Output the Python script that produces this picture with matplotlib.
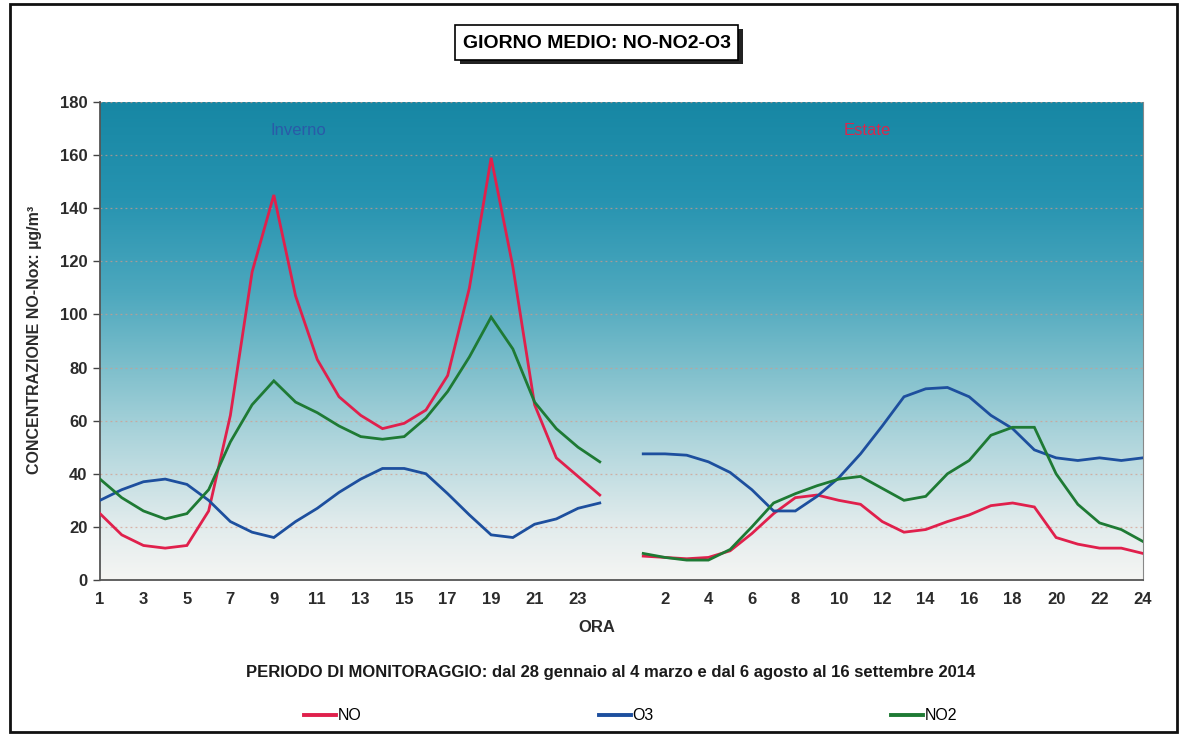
import numpy as np
import matplotlib
matplotlib.use("Agg")
import matplotlib.pyplot as plt
from matplotlib.colors import LinearSegmentedColormap
from matplotlib.patches import Rectangle
from matplotlib.lines import Line2D

# ore del giorno medio (inverno e estate)
ore_inverno = list(range(1, 25))
ore_estate = list(range(1, 25))

# valori, ug/m3
no_inverno = [25, 17, 13, 12, 13, 26, 62, 116, 145, 107, 83, 69, 62, 57, 59, 64, 77, 110, 159, 118, 66, 46, 39, 32]
o3_inverno = [30, 34, 37, 38, 36, 30, 22, 18, 16, 22, 27, 33, 38, 42, 42, 40, 32.5, 24.5, 17, 16, 21, 23, 27, 29]
no2_inverno = [38, 31, 26, 23, 25, 34, 52, 66, 75, 67, 63, 58, 54, 53, 54, 61, 71, 84, 99, 87, 67, 57, 50, 44.5]

no_estate = [9, 8.5, 8, 8.5, 11, 17.5, 25, 31, 32, 30, 28.5, 22, 18, 19, 22, 24.5, 28, 29, 27.5, 16, 13.5, 12, 12, 10]
o3_estate = [47.5, 47.5, 47, 44.5, 40.5, 34, 26, 26, 31.5, 38.5, 47.5, 58, 69, 72, 72.5, 69, 62, 57, 49, 46, 45, 46, 45, 46]
no2_estate = [10, 8.5, 7.5, 7.5, 11.5, 20, 29, 32.5, 35.5, 38, 39, 34.5, 30, 31.5, 40, 45, 54.5, 57.5, 57.5, 40, 28.5, 21.5, 19, 14.5]

# categorie dell'asse x: inverno, una colonna vuota, estate
categorie = [str(h) for h in ore_inverno] + [""] + [str(h) for h in ore_estate]

serie = {
    "NO": (no_inverno, no_estate, "#e0204c"),
    "O3": (o3_inverno, o3_estate, "#1d4f9e"),
    "NO2": (no2_inverno, no2_estate, "#1e7a34"),
}

arial = ["Liberation Sans", "DejaVu Sans"]

fig = plt.figure(figsize=(11.83, 7.34), dpi=100)
fig.patch.set_facecolor("white")
ax = fig.add_axes([100 / 1183, 1 - 580 / 734, 1043 / 1183, 478 / 734])

x = np.arange(len(categorie))

# sfondo sfumato
cmap = LinearSegmentedColormap.from_list(
    "sfondo",
    [(0.0, "#f5f5f3"), (0.12, "#e0ebec"), (0.3, "#acd4db"), (0.45, "#7cbecb"),
     (0.6, "#4da8be"), (0.8, "#2693b0"), (1.0, "#1787a4")])
grad = np.linspace(0, 1, 256).reshape(-1, 1)
ax.imshow(grad, extent=[0, len(categorie) - 1, 0, 180], origin="lower",
          aspect="auto", cmap=cmap, zorder=0)

for nome, (inv, est, col) in serie.items():
    y = np.array(inv + [np.nan] + est, dtype=float)
    ax.plot(x, y, color=col, lw=2.0, zorder=3, solid_joinstyle="miter")

ax.set_xlim(0, len(categorie) - 1)
ax.set_ylim(0, 180)
ax.set_yticks(np.arange(0, 181, 20))
ax.set_xticks(x[::2])
ax.set_xticklabels(categorie[::2])
ax.yaxis.grid(True, linestyle=(0, (1.5, 2.5)), color="#d49a8a", lw=0.9, alpha=0.7)
ax.xaxis.grid(False)

ax.tick_params(axis="y", direction="out", length=5, width=1, color="#444444", pad=4)
ax.tick_params(axis="x", length=0, pad=9)
for lab in ax.get_yticklabels() + ax.get_xticklabels():
    lab.set_fontfamily(arial)
    lab.set_fontweight("bold")
    lab.set_fontsize(12)
    lab.set_color("#2b2b2b")

for s in ["left", "bottom"]:
    ax.spines[s].set_color("#555555")
    ax.spines[s].set_linewidth(1.3)
ax.spines["right"].set_color("#888888")
ax.spines["right"].set_linewidth(0.8)
ax.spines["top"].set_visible(False)

ax.text(0.19, 0.94, "Inverno", transform=ax.transAxes, ha="center", va="center",
        fontsize=12, color="#2a5aa8", family=arial)
ax.text(0.736, 0.94, "Estate", transform=ax.transAxes, ha="center", va="center",
        fontsize=12, color="#d8284e", family=arial)

fig.text(35 / 1183, 1 - 340 / 734, "CONCENTRAZIONE NO-Nox: µg/m³", rotation=90,
         ha="center", va="center", fontsize=11.5, fontweight="bold", family=arial,
         color="#2b2b2b")
fig.text(597 / 1183, 1 - 627 / 734, "ORA", ha="center", va="center",
         fontsize=12, fontweight="bold", family=arial, color="#2b2b2b")

# titolo con ombra
fig.add_artist(Rectangle((460 / 1183, 1 - 64 / 734), 283 / 1183, 35 / 734,
                         transform=fig.transFigure, fc="#222222", ec="none", zorder=1))
fig.add_artist(Rectangle((455 / 1183, 1 - 60 / 734), 283 / 1183, 35 / 734,
                         transform=fig.transFigure, fc="white", ec="black", lw=1.2, zorder=2))
fig.text(596.5 / 1183, 1 - 43 / 734, "GIORNO MEDIO: NO-NO2-O3", ha="center", va="center",
         fontsize=14, fontweight="bold", family=arial, color="black", zorder=3)

fig.text(611 / 1183, 1 - 673 / 734,
         "PERIODO DI MONITORAGGIO: dal 28 gennaio al 4 marzo e dal 6 agosto al 16 settembre 2014",
         ha="center", va="center", fontsize=12, fontweight="bold", family=arial, color="#1a1a1a")

handles = [Line2D([0], [0], color=c, lw=2.8) for (_, _, c) in serie.values()]
leg = fig.legend(handles, list(serie.keys()), loc="center left",
                 bbox_to_anchor=(290 / 1183, 1 - 716 / 734), ncol=3, frameon=False,
                 handlelength=2.0, handletextpad=0.1, columnspacing=14.85,
                 prop={"family": arial, "size": 11.5})

# cornice esterna
fig.add_artist(Rectangle((10 / 1183, 2 / 734), 1167 / 1183, 728 / 734,
                         transform=fig.transFigure, fc="none", ec="#111111", lw=2.0))

fig.savefig("out.png", dpi=100)
